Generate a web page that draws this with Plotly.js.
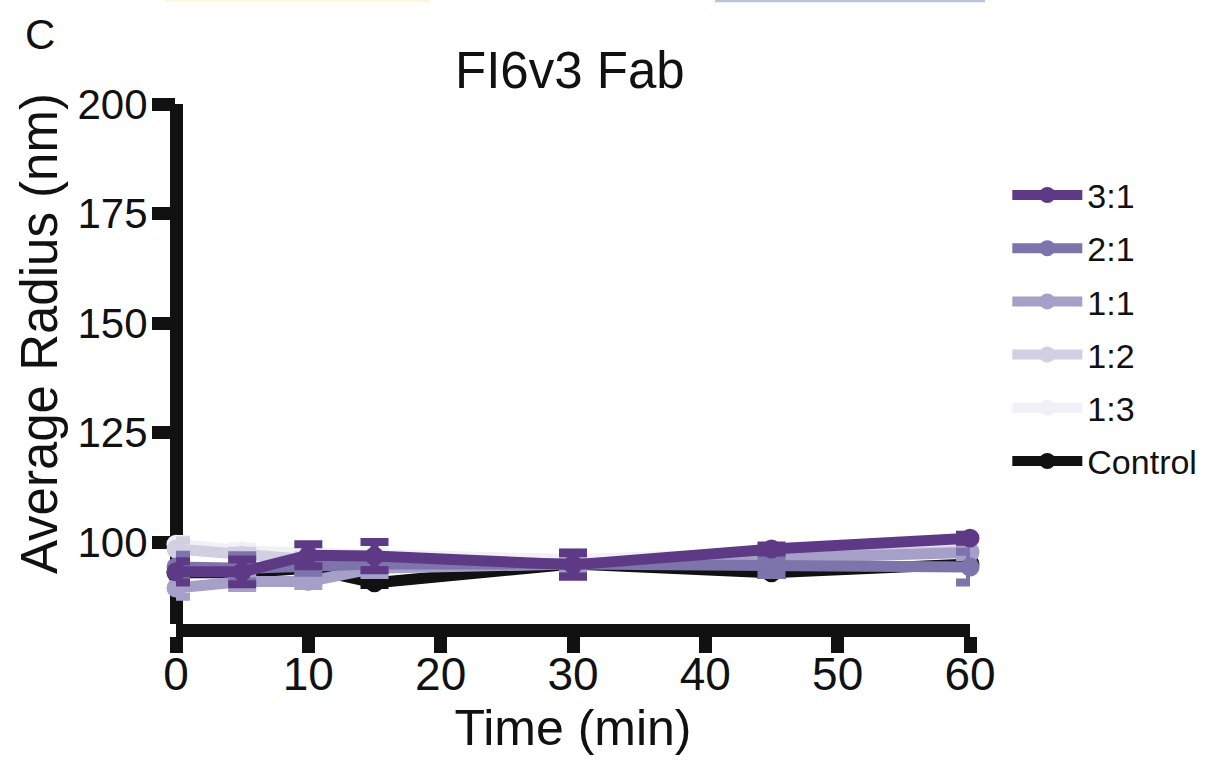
<!DOCTYPE html>
<html>
<head>
<meta charset="utf-8">
<script src="https://cdn.plot.ly/plotly-3.0.1.min.js"></script>
<style>html,body{margin:0;padding:0;background:#fff;}#chart{width:1221px;height:760px;}</style>
</head>
<body>
<div id="chart"></div>
<script>
var times = [0, 5, 10, 15, 30, 45, 60];
var seriesNames = ["Control", "1:3", "1:2", "1:1", "2:1", "3:1"];
var seriesColors = ["#111111", "#F2F0F7", "#D2CFE3", "#A6A0C8", "#7C74AA", "#5E3A86"];
var legendRanks = [6, 5, 4, 3, 2, 1];
var ctrlMean = [93.0, 93.0, 94.0, 90.7, 95.0, 93.0, 95.0];
var ctrlErr  = [0.5, 0.5, 0.5, 0.5, 0.5, 0.5, 0.5];
var r13Mean = [99.5, 98.0, 97.5, 97.0, 96.0, 97.5, 99.0];
var r13Err  = [1.2, 1.0, 1.0, 1.0, 1.0, 1.0, 1.0];
var r12Mean = [98.4, 97.0, 96.0, 95.5, 95.0, 96.5, 98.0];
var r12Err  = [2.0, 1.0, 1.0, 1.0, 1.0, 1.0, 1.0];
var r11Mean = [89.5, 91.0, 91.0, 94.0, 95.0, 96.0, 97.6];
var r11Err  = [2.0, 1.5, 1.0, 1.5, 1.5, 1.0, 1.0];
var r21Mean = [94.3, 94.0, 94.5, 95.0, 95.0, 94.5, 94.3];
var r21Err  = [2.8, 3.0, 1.5, 1.5, 2.7, 2.0, 3.5];
var r31Mean = [93.2, 93.2, 97.0, 96.8, 94.8, 98.4, 100.9];
var r31Err  = [2.4, 2.8, 2.5, 3.2, 2.7, 0.8, 0.8];

var means = [ctrlMean, r13Mean, r12Mean, r11Mean, r21Mean, r31Mean];
var errs = [ctrlErr, r13Err, r12Err, r11Err, r21Err, r31Err];

var traces = seriesNames.map(function (name, i) {
  return {
    x: times, y: means[i], name: name, type: 'scatter', mode: 'lines+markers',
    legendgroup: name, legendrank: legendRanks[i],
    line: {color: seriesColors[i], width: 11},
    marker: {color: seriesColors[i], size: 19},
    error_y: {type: 'data', array: errs[i], visible: true, color: seriesColors[i], thickness: 8, width: 14},
    cliponaxis: false
  };
});

var font = 'Liberation Sans, Arial, Helvetica, sans-serif';
var layout = {
  width: 1221, height: 760,
  margin: {l: 176, r: 251, t: 104, b: 136},
  paper_bgcolor: '#ffffff', plot_bgcolor: '#ffffff',
  font: {family: font, color: '#111111'},
  showlegend: true,
  title: {text: 'FI6v3 Fab', font: {size: 51, family: font, color: '#111111'},
          x: 0.496, xref: 'paper', xanchor: 'center', y: 0.908, yref: 'container', yanchor: 'middle'},
  xaxis: {
    range: [0, 60], tickvals: [0, 10, 20, 30, 40, 50, 60],
    showgrid: false, zeroline: true, zerolinecolor: '#111111', zerolinewidth: 13,
    showline: true, linecolor: '#111111', linewidth: 13,
    ticks: 'outside', ticklen: 16, tickwidth: 13, tickcolor: '#111111',
    tickfont: {size: 46, family: font, color: '#111111'}, ticklabelstandoff: -18,
    title: {text: 'Time (min)', font: {size: 50, family: font, color: '#111111'}, standoff: 10},
    layer: 'below traces', automargin: false, fixedrange: true
  },
  yaxis: {
    range: [81.3, 200], tickvals: [100, 125, 150, 175, 200],
    showgrid: false, zeroline: false, showline: false,
    ticks: 'outside', ticklen: 23, tickwidth: 13, tickcolor: '#111111',
    tickfont: {size: 42, family: font, color: '#111111'}, ticklabelstandoff: -4,
    layer: 'below traces', automargin: false, fixedrange: true
  },
  legend: {
    x: 1.047, xanchor: 'left', y: 0.88, yanchor: 'top',
    traceorder: 'grouped', tracegroupgap: 6,
    font: {size: 34, family: font, color: '#111111'},
    itemwidth: 70, bgcolor: 'rgba(0,0,0,0)'
  },
  annotations: [
    {text: 'C', xref: 'paper', yref: 'paper', x: -0.171, y: 1.134, xanchor: 'center', yanchor: 'middle',
     showarrow: false, font: {size: 42, family: font, color: '#111111'}},
    {text: 'Average Radius (nm)', xref: 'paper', yref: 'paper', x: -0.171, y: 0.558,
     xanchor: 'center', yanchor: 'middle', textangle: -90, showarrow: false,
     font: {size: 51, family: font, color: '#111111'}}
  ],
  shapes: [
    {type: 'rect', xref: 'paper', yref: 'paper', x0: -0.014, x1: 0.32, y0: 1.1956, y1: 1.2013,
     fillcolor: '#FAF7DF', line: {width: 0}},
    {type: 'rect', xref: 'paper', yref: 'paper', x0: 0.679, x1: 1.019, y0: 1.1956, y1: 1.2013,
     fillcolor: '#B9C3DE', line: {width: 0}}
  ]
};

Plotly.newPlot('chart', traces, layout, {displayModeBar: false, staticPlot: true});
</script>
</body>
</html>
